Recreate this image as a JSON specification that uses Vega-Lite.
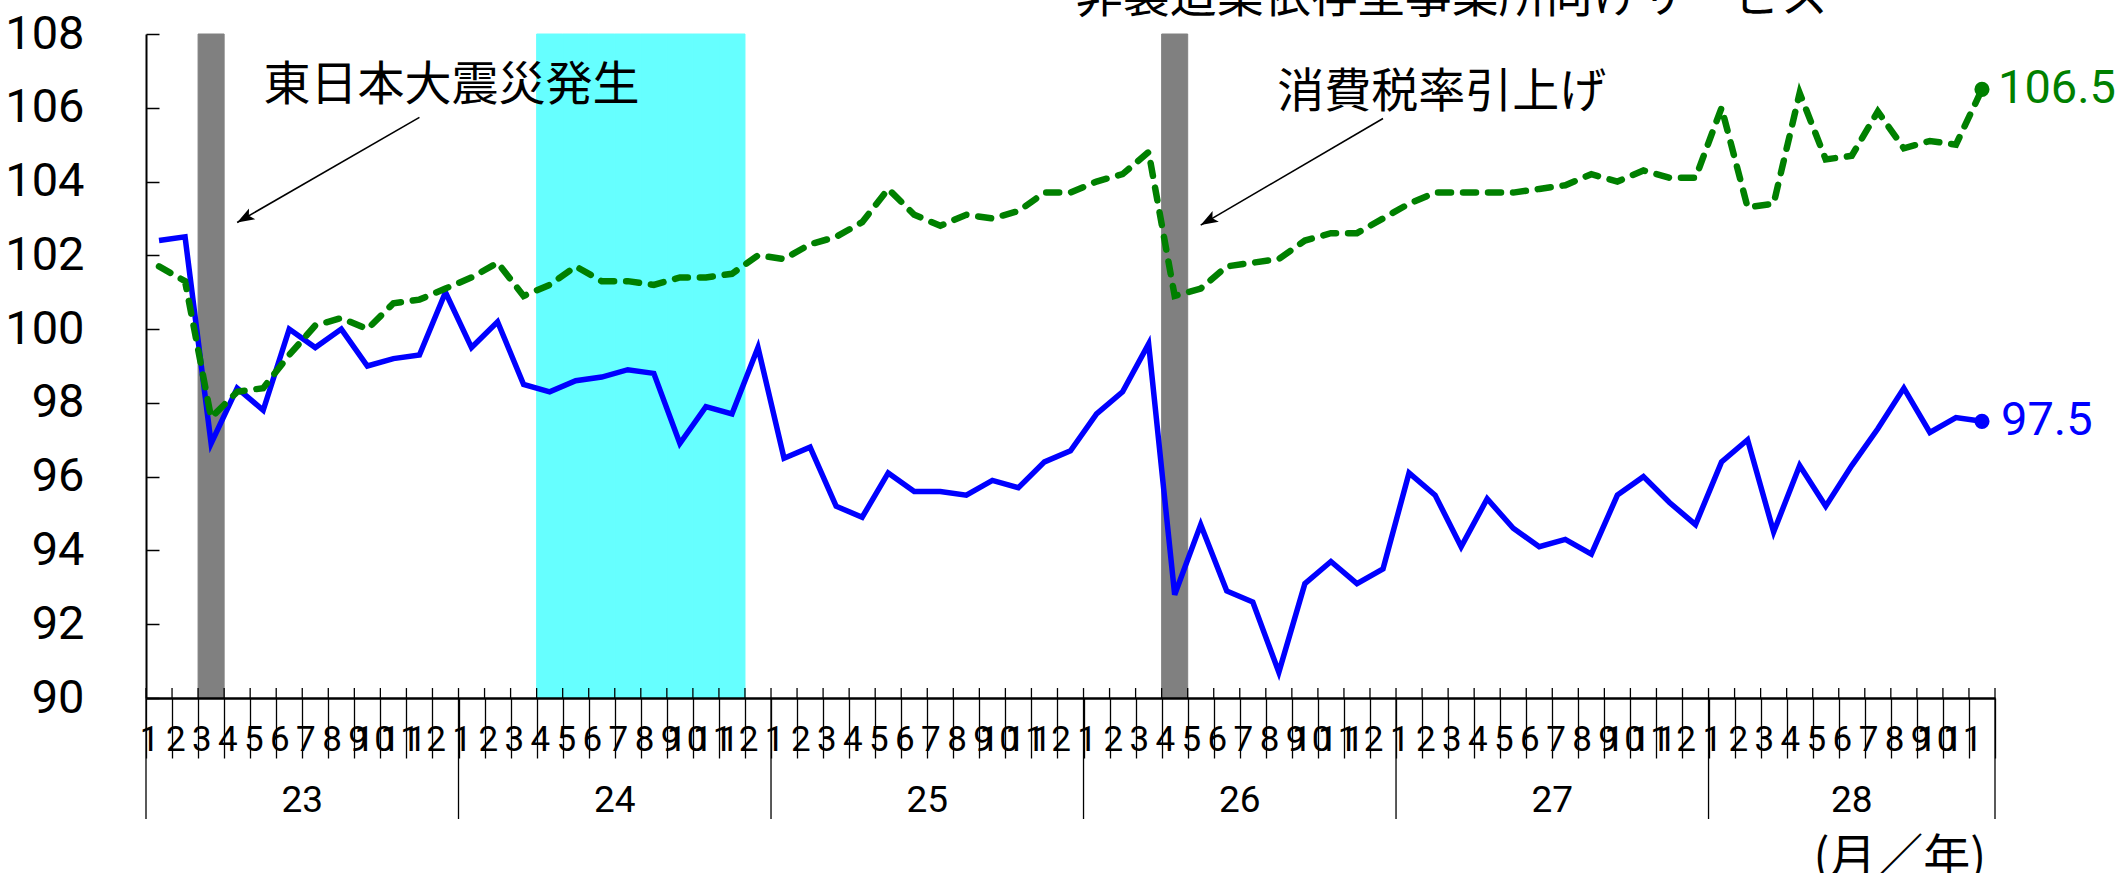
{
  "$schema": "https://vega.github.io/schema/vega-lite/v6.json",
  "width": 1849,
  "height": 664,
  "autosize": {"type": "none"},
  "padding": {"left": 146, "top": 34, "right": 127, "bottom": 175},
  "background": "white",
  "config": {"view": {"stroke": null}},
  "datasets": {
    "series": [
      {"ym": "23/01", "mfg": 102.4, "nonmfg": 101.7},
      {"ym": "23/02", "mfg": 102.5, "nonmfg": 101.3},
      {"ym": "23/03", "mfg": 96.9, "nonmfg": 97.6},
      {"ym": "23/04", "mfg": 98.4, "nonmfg": 98.3},
      {"ym": "23/05", "mfg": 97.8, "nonmfg": 98.4},
      {"ym": "23/06", "mfg": 100.0, "nonmfg": 99.3},
      {"ym": "23/07", "mfg": 99.5, "nonmfg": 100.1},
      {"ym": "23/08", "mfg": 100.0, "nonmfg": 100.3},
      {"ym": "23/09", "mfg": 99.0, "nonmfg": 100.0},
      {"ym": "23/10", "mfg": 99.2, "nonmfg": 100.7},
      {"ym": "23/11", "mfg": 99.3, "nonmfg": 100.8},
      {"ym": "23/12", "mfg": 101.0, "nonmfg": 101.1},
      {"ym": "24/01", "mfg": 99.5, "nonmfg": 101.4},
      {"ym": "24/02", "mfg": 100.2, "nonmfg": 101.8},
      {"ym": "24/03", "mfg": 98.5, "nonmfg": 100.9},
      {"ym": "24/04", "mfg": 98.3, "nonmfg": 101.2},
      {"ym": "24/05", "mfg": 98.6, "nonmfg": 101.7},
      {"ym": "24/06", "mfg": 98.7, "nonmfg": 101.3},
      {"ym": "24/07", "mfg": 98.9, "nonmfg": 101.3},
      {"ym": "24/08", "mfg": 98.8, "nonmfg": 101.2},
      {"ym": "24/09", "mfg": 96.9, "nonmfg": 101.4},
      {"ym": "24/10", "mfg": 97.9, "nonmfg": 101.4},
      {"ym": "24/11", "mfg": 97.7, "nonmfg": 101.5},
      {"ym": "24/12", "mfg": 99.5, "nonmfg": 102.0},
      {"ym": "25/01", "mfg": 96.5, "nonmfg": 101.9},
      {"ym": "25/02", "mfg": 96.8, "nonmfg": 102.3},
      {"ym": "25/03", "mfg": 95.2, "nonmfg": 102.5},
      {"ym": "25/04", "mfg": 94.9, "nonmfg": 102.9},
      {"ym": "25/05", "mfg": 96.1, "nonmfg": 103.8},
      {"ym": "25/06", "mfg": 95.6, "nonmfg": 103.1},
      {"ym": "25/07", "mfg": 95.6, "nonmfg": 102.8},
      {"ym": "25/08", "mfg": 95.5, "nonmfg": 103.1},
      {"ym": "25/09", "mfg": 95.9, "nonmfg": 103.0},
      {"ym": "25/10", "mfg": 95.7, "nonmfg": 103.2},
      {"ym": "25/11", "mfg": 96.4, "nonmfg": 103.7},
      {"ym": "25/12", "mfg": 96.7, "nonmfg": 103.7},
      {"ym": "26/01", "mfg": 97.7, "nonmfg": 104.0},
      {"ym": "26/02", "mfg": 98.3, "nonmfg": 104.2},
      {"ym": "26/03", "mfg": 99.6, "nonmfg": 104.8},
      {"ym": "26/04", "mfg": 92.8, "nonmfg": 100.9},
      {"ym": "26/05", "mfg": 94.7, "nonmfg": 101.1},
      {"ym": "26/06", "mfg": 92.9, "nonmfg": 101.7},
      {"ym": "26/07", "mfg": 92.6, "nonmfg": 101.8},
      {"ym": "26/08", "mfg": 90.7, "nonmfg": 101.9},
      {"ym": "26/09", "mfg": 93.1, "nonmfg": 102.4},
      {"ym": "26/10", "mfg": 93.7, "nonmfg": 102.6},
      {"ym": "26/11", "mfg": 93.1, "nonmfg": 102.6},
      {"ym": "26/12", "mfg": 93.5, "nonmfg": 103.0},
      {"ym": "27/01", "mfg": 96.1, "nonmfg": 103.4},
      {"ym": "27/02", "mfg": 95.5, "nonmfg": 103.7},
      {"ym": "27/03", "mfg": 94.1, "nonmfg": 103.7},
      {"ym": "27/04", "mfg": 95.4, "nonmfg": 103.7},
      {"ym": "27/05", "mfg": 94.6, "nonmfg": 103.7},
      {"ym": "27/06", "mfg": 94.1, "nonmfg": 103.8},
      {"ym": "27/07", "mfg": 94.3, "nonmfg": 103.9},
      {"ym": "27/08", "mfg": 93.9, "nonmfg": 104.2},
      {"ym": "27/09", "mfg": 95.5, "nonmfg": 104.0},
      {"ym": "27/10", "mfg": 96.0, "nonmfg": 104.3},
      {"ym": "27/11", "mfg": 95.3, "nonmfg": 104.1},
      {"ym": "27/12", "mfg": 94.7, "nonmfg": 104.1},
      {"ym": "28/01", "mfg": 96.4, "nonmfg": 106.0},
      {"ym": "28/02", "mfg": 97.0, "nonmfg": 103.3},
      {"ym": "28/03", "mfg": 94.5, "nonmfg": 103.4},
      {"ym": "28/04", "mfg": 96.3, "nonmfg": 106.4},
      {"ym": "28/05", "mfg": 95.2, "nonmfg": 104.6},
      {"ym": "28/06", "mfg": 96.3, "nonmfg": 104.7},
      {"ym": "28/07", "mfg": 97.3, "nonmfg": 105.9},
      {"ym": "28/08", "mfg": 98.4, "nonmfg": 104.9},
      {"ym": "28/09", "mfg": 97.2, "nonmfg": 105.1},
      {"ym": "28/10", "mfg": 97.6, "nonmfg": 105.0},
      {"ym": "28/11", "mfg": 97.5, "nonmfg": 106.5}
    ],
    "shade": [
      {"ym": "23/03", "kind": "event"},
      {"ym": "26/04", "kind": "event"},
      {"ym": "24/04", "kind": "recession"},
      {"ym": "24/05", "kind": "recession"},
      {"ym": "24/06", "kind": "recession"},
      {"ym": "24/07", "kind": "recession"},
      {"ym": "24/08", "kind": "recession"},
      {"ym": "24/09", "kind": "recession"},
      {"ym": "24/10", "kind": "recession"},
      {"ym": "24/11", "kind": "recession"}
    ],
    "yearStarts": [
      {"ym": "23/01"}, {"ym": "24/01"}, {"ym": "25/01"}, {"ym": "26/01"}, {"ym": "27/01"}, {"ym": "28/01"}
    ],
    "yearEnd": [{"ym": "28/11"}],
    "yearLabels": [
      {"ym": "23/06", "label": "23"}, {"ym": "24/06", "label": "24"}, {"ym": "25/06", "label": "25"},
      {"ym": "26/06", "label": "26"}, {"ym": "27/06", "label": "27"}
    ],
    "yearLabelLast": [{"ym": "28/06", "label": "28"}],
    "noteQuake": [{"ym": "23/12", "y": 106.6, "text": "東日本大震災発生"}],
    "noteTax": [{"ym": "26/03", "y": 106.41, "text": "消費税率引上げ"}],
    "noteSeries": [{"ym": "26/03", "y": 108.98, "text": "非製造業依存型事業所向けサービス"}],
    "noteUnit": [{"ym": "28/08", "y": 85.64, "text": "(月／年)"}],
    "arrows": [
      {"ym": "23/11", "y": 105.74, "ym2": "23/04", "y2": 102.89},
      {"ym": "26/12", "y": 105.71, "ym2": "26/05", "y2": 102.82}
    ]
  },
  "layer": [
    {
      "data": {"name": "shade"},
      "mark": {"type": "rect", "strokeWidth": 1},
      "encoding": {
        "x": {"field": "ym", "type": "ordinal", "title": null, "scale": {"type": "band", "paddingInner": 0, "paddingOuter": 0}},
        "color": {
          "field": "kind", "type": "nominal", "legend": null,
          "scale": {"domain": ["event", "recession"], "range": ["#808080", "#66FFFF"]}
        },
        "stroke": {
          "field": "kind", "type": "nominal", "legend": null,
          "scale": {"domain": ["event", "recession"], "range": ["#808080", "#66FFFF"]}
        }
      }
    },
    {
      "data": {"name": "series"},
      "mark": {"type": "line", "stroke": "#0000FF", "strokeWidth": 5.5},
      "encoding": {
        "x": {
          "field": "ym", "type": "ordinal", "title": null,
          "scale": {"type": "band", "paddingInner": 0, "paddingOuter": 0},
          "axis": {
            "title": null, "grid": false,
            "tickBand": "extent", "tickSize": 60, "tickColor": "black", "tickWidth": 1.3,
            "domain": true, "domainColor": "black", "domainWidth": 2.5,
            "labelExpr": "isString(datum.value) ? toNumber(slice(datum.value, 3)) : ''",
            "labelFont": "Liberation Sans Narrow, Roboto",
            "labelFontSize": 35, "labelColor": "black", "labelAngle": 0,
            "labelBaseline": "alphabetic", "labelPadding": -8, "labelOverlap": false
          }
        },
        "y": {
          "field": "mfg", "type": "quantitative", "title": null,
          "scale": {"domain": [90, 108], "nice": false, "zero": false},
          "axis": {
            "title": null, "grid": false,
            "values": [90, 92, 94, 96, 98, 100, 102, 104, 106, 108],
            "tickSize": -13, "tickColor": "black", "tickWidth": 1.5,
            "domain": true, "domainColor": "black", "domainWidth": 2,
            "labelFont": "Liberation Sans Narrow, Roboto",
            "labelFontSize": 47, "labelColor": "black", "labelPadding": 75
          }
        }
      }
    },
    {
      "data": {"name": "series"},
      "mark": {"type": "line", "stroke": "#008000", "strokeWidth": 6.5, "strokeDash": [13, 12], "strokeCap": "round"},
      "encoding": {
        "x": {"field": "ym", "type": "ordinal", "title": null, "scale": {"type": "band", "paddingInner": 0, "paddingOuter": 0}},
        "y": {"field": "nonmfg", "type": "quantitative", "title": null, "scale": {"domain": [90, 108], "nice": false, "zero": false}}
      }
    },
    {
      "data": {"name": "series"},
      "mark": {"type": "rule", "stroke": "black", "strokeWidth": 1.3},
      "encoding": {
        "x": {"field": "ym", "type": "ordinal", "title": null, "bandPosition": 0, "scale": {"type": "band", "paddingInner": 0, "paddingOuter": 0}},
        "y": {"datum": 90, "title": null, "scale": {"domain": [90, 108], "nice": false, "zero": false}},
        "y2": {"datum": 90.27}
      }
    },
    {
      "data": {"name": "yearStarts"},
      "mark": {"type": "rule", "stroke": "black", "strokeWidth": 1.3},
      "encoding": {
        "x": {"field": "ym", "type": "ordinal", "title": null, "bandPosition": 0, "scale": {"type": "band", "paddingInner": 0, "paddingOuter": 0}},
        "y": {"datum": 90, "title": null, "scale": {"domain": [90, 108], "nice": false, "zero": false}},
        "y2": {"datum": 86.72}
      }
    },
    {
      "data": {"name": "yearEnd"},
      "mark": {"type": "rule", "stroke": "black", "strokeWidth": 1.3},
      "encoding": {
        "x": {"field": "ym", "type": "ordinal", "title": null, "bandPosition": 1, "scale": {"type": "band", "paddingInner": 0, "paddingOuter": 0}},
        "y": {"datum": 90.27, "title": null, "scale": {"domain": [90, 108], "nice": false, "zero": false}},
        "y2": {"datum": 86.72}
      }
    },
    {
      "data": {"name": "yearLabels"},
      "mark": {"type": "text", "align": "center", "baseline": "alphabetic", "fontSize": 37, "font": "Liberation Sans Narrow, Roboto", "color": "black"},
      "encoding": {
        "x": {"field": "ym", "type": "ordinal", "title": null, "bandPosition": 1, "scale": {"type": "band", "paddingInner": 0, "paddingOuter": 0}},
        "y": {"datum": 86.92, "title": null, "scale": {"domain": [90, 108], "nice": false, "zero": false}},
        "text": {"field": "label"}
      }
    },
    {
      "data": {"name": "yearLabelLast"},
      "mark": {"type": "text", "align": "center", "baseline": "alphabetic", "fontSize": 37, "font": "Liberation Sans Narrow, Roboto", "color": "black"},
      "encoding": {
        "x": {"field": "ym", "type": "ordinal", "title": null, "scale": {"type": "band", "paddingInner": 0, "paddingOuter": 0}},
        "y": {"datum": 86.92, "title": null, "scale": {"domain": [90, 108], "nice": false, "zero": false}},
        "text": {"field": "label"}
      }
    },
    {
      "data": {"name": "series"},
      "transform": [{"filter": "datum.ym === '28/11'"}],
      "mark": {"type": "point", "filled": true, "opacity": 1, "size": 230, "color": "#0000FF"},
      "encoding": {
        "x": {"field": "ym", "type": "ordinal", "title": null, "scale": {"type": "band", "paddingInner": 0, "paddingOuter": 0}},
        "y": {"field": "mfg", "type": "quantitative", "title": null, "scale": {"domain": [90, 108], "nice": false, "zero": false}}
      }
    },
    {
      "data": {"name": "series"},
      "transform": [{"filter": "datum.ym === '28/11'"}],
      "mark": {"type": "point", "filled": true, "opacity": 1, "size": 230, "color": "#008000"},
      "encoding": {
        "x": {"field": "ym", "type": "ordinal", "title": null, "scale": {"type": "band", "paddingInner": 0, "paddingOuter": 0}},
        "y": {"field": "nonmfg", "type": "quantitative", "title": null, "scale": {"domain": [90, 108], "nice": false, "zero": false}}
      }
    },
    {
      "data": {"name": "series"},
      "transform": [{"filter": "datum.ym === '28/11'"}],
      "mark": {"type": "text", "align": "left", "baseline": "middle", "dx": 19, "fontSize": 47, "font": "Liberation Sans Narrow, Roboto", "color": "#0000FF"},
      "encoding": {
        "x": {"field": "ym", "type": "ordinal", "title": null, "scale": {"type": "band", "paddingInner": 0, "paddingOuter": 0}},
        "y": {"field": "mfg", "type": "quantitative", "title": null, "scale": {"domain": [90, 108], "nice": false, "zero": false}},
        "text": {"field": "mfg", "type": "quantitative", "format": ".1f"}
      }
    },
    {
      "data": {"name": "series"},
      "transform": [{"filter": "datum.ym === '28/11'"}],
      "mark": {"type": "text", "align": "left", "baseline": "middle", "dx": 16, "fontSize": 47, "font": "Liberation Sans Narrow, Roboto", "color": "#008000"},
      "encoding": {
        "x": {"field": "ym", "type": "ordinal", "title": null, "scale": {"type": "band", "paddingInner": 0, "paddingOuter": 0}},
        "y": {"field": "nonmfg", "type": "quantitative", "title": null, "scale": {"domain": [90, 108], "nice": false, "zero": false}},
        "text": {"field": "nonmfg", "type": "quantitative", "format": ".1f"}
      }
    },
    {
      "data": {"name": "arrows"},
      "mark": {"type": "rule", "stroke": "black", "strokeWidth": 1.6},
      "encoding": {
        "x": {"field": "ym", "type": "ordinal", "title": null, "scale": {"type": "band", "paddingInner": 0, "paddingOuter": 0}},
        "y": {"field": "y", "type": "quantitative", "title": null, "scale": {"domain": [90, 108], "nice": false, "zero": false}},
        "x2": {"field": "ym2"},
        "y2": {"field": "y2"}
      }
    },
    {
      "data": {"name": "arrows"},
      "mark": {"type": "point", "shape": "M0,0 L-0.36,1 L0,0.78 L0.36,1 Z", "angle": 240, "size": 1200, "filled": true, "color": "black", "opacity": 1},
      "encoding": {
        "x": {"field": "ym2", "type": "ordinal", "title": null, "scale": {"type": "band", "paddingInner": 0, "paddingOuter": 0}},
        "y": {"field": "y2", "type": "quantitative", "title": null, "scale": {"domain": [90, 108], "nice": false, "zero": false}}
      }
    },
    {
      "data": {"name": "noteQuake"},
      "mark": {"type": "text", "align": "center", "baseline": "middle", "dx": 6, "fontSize": 47, "font": "Noto Sans CJK JP", "color": "black"},
      "encoding": {
        "x": {"field": "ym", "type": "ordinal", "title": null, "scale": {"type": "band", "paddingInner": 0, "paddingOuter": 0}},
        "y": {"field": "y", "type": "quantitative", "title": null, "scale": {"domain": [90, 108], "nice": false, "zero": false}},
        "text": {"field": "text"}
      }
    },
    {
      "data": {"name": "noteTax"},
      "mark": {"type": "text", "align": "center", "baseline": "middle", "dx": 293, "fontSize": 47, "font": "Noto Sans CJK JP", "color": "black"},
      "encoding": {
        "x": {"field": "ym", "type": "ordinal", "title": null, "scale": {"type": "band", "paddingInner": 0, "paddingOuter": 0}},
        "y": {"field": "y", "type": "quantitative", "title": null, "scale": {"domain": [90, 108], "nice": false, "zero": false}},
        "text": {"field": "text"}
      }
    },
    {
      "data": {"name": "noteSeries"},
      "mark": {"type": "text", "align": "center", "baseline": "middle", "dx": 303, "fontSize": 47, "font": "Noto Sans CJK JP", "color": "black"},
      "encoding": {
        "x": {"field": "ym", "type": "ordinal", "title": null, "scale": {"type": "band", "paddingInner": 0, "paddingOuter": 0}},
        "y": {"field": "y", "type": "quantitative", "title": null, "scale": {"domain": [90, 108], "nice": false, "zero": false}},
        "text": {"field": "text"}
      }
    },
    {
      "data": {"name": "noteUnit"},
      "mark": {"type": "text", "align": "center", "baseline": "middle", "dx": -4, "fontSize": 47, "font": "Noto Sans CJK JP", "color": "black"},
      "encoding": {
        "x": {"field": "ym", "type": "ordinal", "title": null, "scale": {"type": "band", "paddingInner": 0, "paddingOuter": 0}},
        "y": {"field": "y", "type": "quantitative", "title": null, "scale": {"domain": [90, 108], "nice": false, "zero": false}},
        "text": {"field": "text"}
      }
    }
  ]
}
